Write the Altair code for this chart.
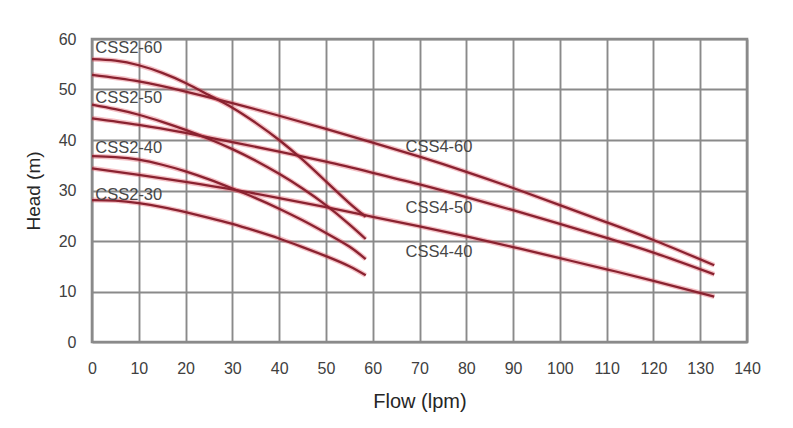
import altair as alt
import pandas as pd

# ---- data ----
css2_flow = [0, 5, 10, 15, 20, 25, 30, 35, 40, 45, 50, 55, 58.5]
css2_60 = [56.0, 55.7, 54.8, 53.3, 51.3, 48.9, 46.4, 43.4, 40.0, 36.1, 31.8, 27.5, 24.8]
css2_50 = [47.0, 46.1, 45.0, 43.6, 42.0, 40.2, 38.2, 35.9, 33.3, 30.4, 27.1, 23.3, 20.4]
css2_40 = [36.8, 36.6, 36.1, 35.1, 33.8, 32.2, 30.4, 28.5, 26.4, 24.1, 21.6, 18.9, 16.4]
css2_30 = [28.1, 28.0, 27.5, 26.7, 25.7, 24.6, 23.4, 22.0, 20.5, 18.8, 17.0, 15.0, 13.2]

css4_flow = [0, 10, 20, 30, 40, 50, 60, 70, 80, 90, 100, 110, 120, 133]
css4_60 = [52.9, 51.6, 49.6, 47.3, 44.8, 42.2, 39.5, 36.7, 33.7, 30.5, 27.1, 23.7, 20.2, 15.2]
css4_50 = [44.3, 43.0, 41.4, 39.6, 37.7, 35.7, 33.5, 31.2, 28.7, 26.1, 23.4, 20.6, 17.7, 13.4]
css4_40 = [34.4, 33.1, 31.7, 30.2, 28.5, 26.7, 24.8, 22.9, 20.9, 18.8, 16.6, 14.4, 12.1, 9.0]

label_names = ["CSS2-60", "CSS2-50", "CSS2-40", "CSS2-30", "CSS4-60", "CSS4-50", "CSS4-40"]
label_flow = [0.7, 0.7, 0.7, 0.7, 67.0, 67.0, 67.0]
label_head = [58.3, 48.3, 38.4, 29.1, 38.6, 26.5, 17.8]

series = {
    "CSS2-60": (css2_flow, css2_60),
    "CSS2-50": (css2_flow, css2_50),
    "CSS2-40": (css2_flow, css2_40),
    "CSS2-30": (css2_flow, css2_30),
    "CSS4-60": (css4_flow, css4_60),
    "CSS4-50": (css4_flow, css4_50),
    "CSS4-40": (css4_flow, css4_40),
}

rows = []
for name, (xs, ys) in series.items():
    for i, (xv, yv) in enumerate(zip(xs, ys)):
        rows.append({"series": name, "flow": xv, "head": yv, "order": i})
df = pd.DataFrame(rows)
labels = pd.DataFrame({"name": label_names, "flow": label_flow, "head": label_head})

FONT = "Liberation Sans"

x_enc = alt.X(
    "flow:Q",
    scale=alt.Scale(domain=[0, 140], nice=False),
    axis=alt.Axis(
        title="Flow (lpm)", values=list(range(0, 141, 10)), ticks=False, domain=False,
        labelFlush=False, labelOverlap=False,
        labelPadding=18, labelFontSize=16, labelColor="#404040", labelFont=FONT,
        titleFontSize=20, titleFont=FONT, titleFontWeight="normal", titleColor="#262626",
        titlePadding=15, gridColor="#8a8a8a", gridWidth=1.9,
    ),
)
y_enc = alt.Y(
    "head:Q",
    scale=alt.Scale(domain=[0, 60], nice=False),
    axis=alt.Axis(
        title="Head (m)", values=list(range(0, 61, 10)), ticks=False, domain=False,
        labelFlush=False, labelOverlap=False,
        labelPadding=16, labelFontSize=16, labelColor="#404040", labelFont=FONT,
        titleFontSize=19, titleFont=FONT, titleFontWeight="normal", titleColor="#262626",
        titlePadding=15, gridColor="#8a8a8a", gridWidth=1.9,
    ),
)

glow = alt.Chart(df).mark_line(
    color="#e04a58", strokeWidth=5, opacity=0.35, interpolate="natural"
).encode(x=x_enc, y=y_enc, detail="series:N", order="order:Q")

core = alt.Chart(df).mark_line(
    color="#8a2230", strokeWidth=2.3, interpolate="natural"
).encode(x="flow:Q", y="head:Q", detail="series:N", order="order:Q")

text = alt.Chart(labels).mark_text(
    align="left", baseline="middle", fontSize=16.5, font=FONT, color="#474747"
).encode(x="flow:Q", y="head:Q", text="name:N")

chart = (
    alt.layer(glow, core, text)
    .properties(
        width=655, height=303,
        autosize=alt.AutoSizeParams(type="none"),
        padding={"left": 84, "top": 31, "right": 38, "bottom": 78},
        background="white",
    )
    .configure_view(stroke="#8a8a8a", strokeWidth=2.6)
)

chart.save("out.html", embed_options={"renderer": "svg", "actions": False})
